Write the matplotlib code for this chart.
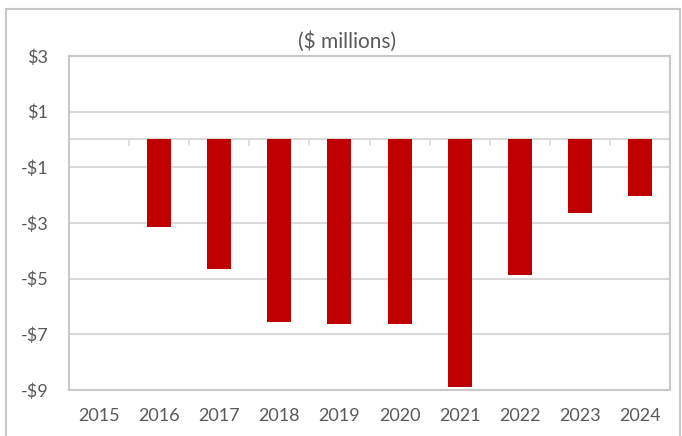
import numpy as np
import matplotlib.pyplot as plt
from matplotlib.patches import Rectangle

years = ['2015', '2016', '2017', '2018', '2019', '2020', '2021', '2022', '2023', '2024']
values = [0.0, -3.13, -4.64, -6.57, -6.64, -6.64, -8.9, -4.87, -2.65, -2.02]
y_ticks = [3, 1, -1, -3, -5, -7, -9]

plt.rcParams['font.family'] = ['Lato', 'DejaVu Sans']
text_color = '#595959'
grid_color = '#d9d9d9'

fig = plt.figure(figsize=(6.82, 4.36), dpi=100)
ax = fig.add_axes([69 / 682, 1 - 390 / 436, 601 / 682, 334 / 436])

x = np.arange(len(years))
ax.bar(x, values, width=0.4, color='#c00000', zorder=3)

ax.set_xlim(-0.5, len(years) - 0.5)
ax.set_ylim(-9, 3)
ax.set_yticks(y_ticks)
ax.set_yticklabels([f'${v}' if v >= 0 else f'-${-v}' for v in y_ticks])
ax.set_xticks(x)
ax.set_xticklabels(years)
ax.tick_params(axis='both', length=0, labelsize=13, colors=text_color)
ax.tick_params(axis='x', pad=13)
ax.tick_params(axis='y', pad=15)

ax.grid(axis='y', color=grid_color, lw=1.5, zorder=0)
for s in ax.spines.values():
    s.set_color('#c8c8c8')
    s.set_linewidth(1.5)

# zero line with category tick marks between bars
ax.axhline(0, color=grid_color, lw=1.5, zorder=2)
for b in np.arange(0.5, len(years) - 0.5, 1.0):
    ax.plot([b, b], [0, -0.18], color=grid_color, lw=1.2, zorder=2)

fig.text(347 / 682, 1 - 42 / 436, '($ millions)', ha='center', va='center',
         fontsize=15, color=text_color)

# outer chart frame
fig.patches.append(Rectangle((6 / 682, -0.05), 674 / 682, 1.05 - 9 / 436,
                             transform=fig.transFigure, fill=False,
                             edgecolor='#c8c8c8', lw=1.5))

fig.savefig('out.png', dpi=100)
